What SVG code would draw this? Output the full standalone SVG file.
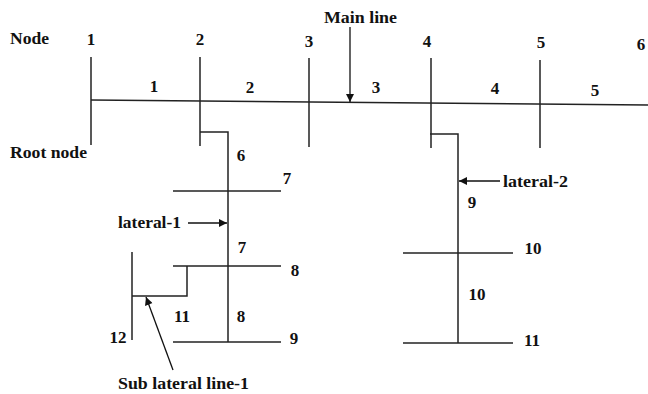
<svg xmlns="http://www.w3.org/2000/svg" width="648" height="394" viewBox="0 0 648 394">
<defs>
<marker id="ah" viewBox="0 0 10 10" refX="10" refY="5" markerWidth="9" markerHeight="8" markerUnits="userSpaceOnUse" orient="auto">
<path d="M0,0 L10,5 L0,10 z" fill="#111"/>
</marker>
</defs>
<style>
.t{font-family:"Liberation Serif","Times New Roman",serif;font-weight:bold;font-size:17px;fill:#111}
.m{text-anchor:middle}
.ln{stroke:#222;stroke-width:1.5;fill:none}
.ar{stroke:#111;stroke-width:1.3;fill:none;marker-end:url(#ah)}
</style>
<rect width="648" height="394" fill="#fff"/>
<g id="labels">
<text class="t" x="10" y="44" textLength="39" lengthAdjust="spacingAndGlyphs">Node</text>
<text class="t" x="10" y="158" textLength="77" lengthAdjust="spacingAndGlyphs">Root node</text>
<text class="t" x="324" y="23" font-size="19" textLength="73" lengthAdjust="spacingAndGlyphs">Main line</text>
</g>
<g id="connectors">
<line class="ln" x1="91" y1="100" x2="648" y2="105"/>
<polyline class="ln" points="200,132 228,132 228,342"/>
<polyline class="ln" points="430,134 458,134 458,343"/>
<polyline class="ln" points="187,266 187,296 132,296"/>
<line class="ar" x1="350" y1="27" x2="350" y2="102"/>
<line class="ar" x1="188" y1="223" x2="227" y2="223"/>
<line class="ar" x1="500" y1="181" x2="459" y2="181"/>
<line class="ar" x1="173" y1="370" x2="146" y2="297"/>
</g>
<g id="node1"><line class="ln" x1="91" y1="57" x2="91" y2="145"/><text class="t m" x="91" y="45">1</text></g>
<g id="node2"><line class="ln" x1="200" y1="57" x2="200" y2="146"/><text class="t m" x="200" y="45">2</text></g>
<g id="node3"><line class="ln" x1="309" y1="58" x2="309" y2="147"/><text class="t m" x="309" y="47">3</text></g>
<g id="node4"><line class="ln" x1="431" y1="58" x2="431" y2="148"/><text class="t m" x="427" y="47">4</text></g>
<g id="node5"><line class="ln" x1="540" y1="60" x2="540" y2="148"/><text class="t m" x="541" y="48">5</text></g>
<g id="node6"><text class="t m" x="641" y="50">6</text></g>
<g id="node7"><line class="ln" x1="173" y1="191" x2="281" y2="191"/><text class="t m" x="287" y="184">7</text></g>
<g id="node8"><line class="ln" x1="173" y1="266" x2="281" y2="266"/><text class="t m" x="295" y="276">8</text></g>
<g id="node9"><line class="ln" x1="173" y1="342" x2="281" y2="342"/><text class="t m" x="294" y="344">9</text></g>
<g id="node10"><line class="ln" x1="403" y1="253" x2="513" y2="253"/><text class="t m" x="533" y="254">10</text></g>
<g id="node11"><line class="ln" x1="403" y1="343" x2="513" y2="343"/><text class="t m" x="532" y="346">11</text></g>
<g id="node12"><line class="ln" x1="132" y1="252" x2="132" y2="340"/><text class="t m" x="118" y="343">12</text></g>
<g id="branch-labels">
<text class="t m" x="154" y="92">1</text>
<text class="t m" x="250" y="93">2</text>
<text class="t m" x="376" y="93">3</text>
<text class="t m" x="495" y="94">4</text>
<text class="t m" x="595" y="96">5</text>
<text class="t m" x="241" y="161">6</text>
<text class="t m" x="242" y="253">7</text>
<text class="t m" x="241" y="322">8</text>
<text class="t m" x="472" y="208">9</text>
<text class="t m" x="477" y="300">10</text>
<text class="t m" x="182" y="322">11</text>
<text class="t" x="118" y="228" font-size="18" textLength="63" lengthAdjust="spacingAndGlyphs">lateral-1</text>
<text class="t" x="503" y="187" font-size="18" textLength="65" lengthAdjust="spacingAndGlyphs">lateral-2</text>
<text class="t" x="118" y="389" font-size="18" textLength="131" lengthAdjust="spacingAndGlyphs">Sub lateral line-1</text>
</g>
</svg>
